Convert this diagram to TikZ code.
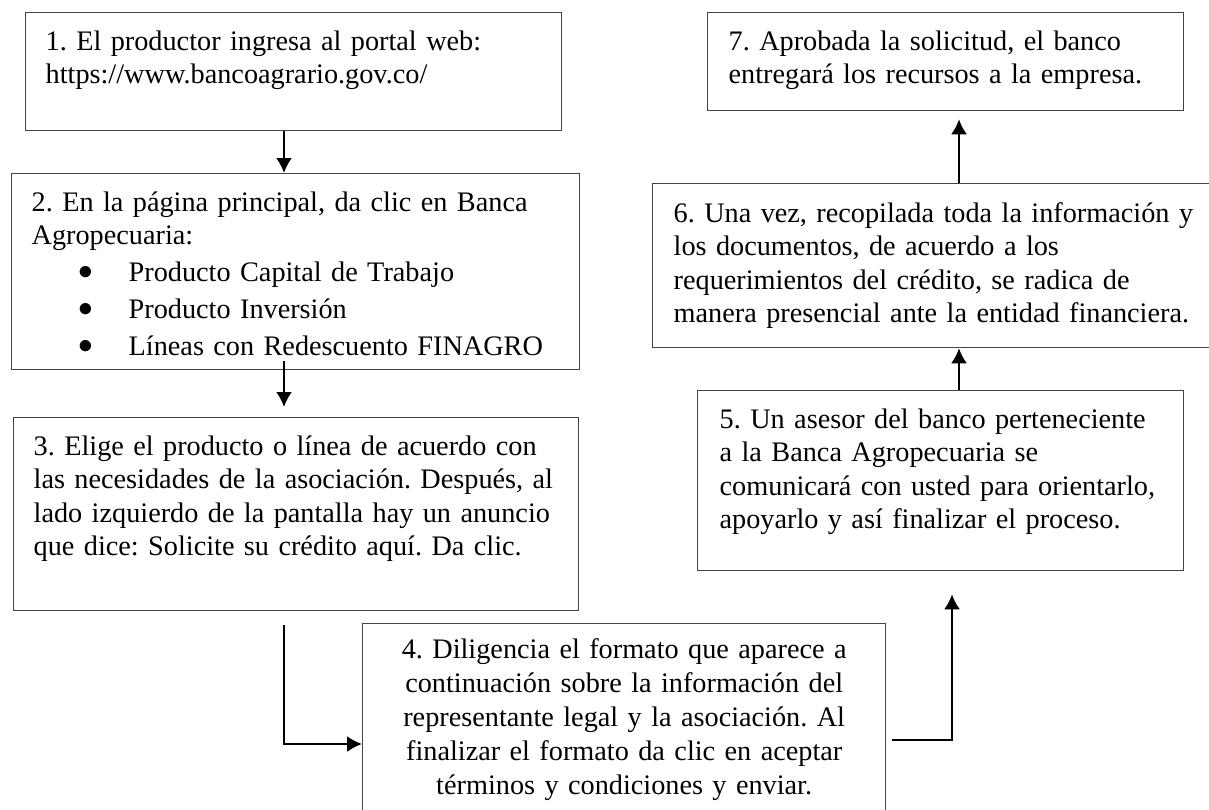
\documentclass[tikz,border=0pt]{standalone}
\usepackage{fontspec}
\setmainfont{Liberation Serif}
\usepackage{tikz}
\usetikzlibrary{arrows.meta,calc}

\frenchspacing
\definecolor{boxgray}{HTML}{444444}
\newdimen\pxu \pxu=0.407pt
\newcommand\bulletline[1]{\makebox[97\pxu][l]{\hspace*{47\pxu}\raisebox{0.8pt}{$\bullet$}}#1}

\tikzset{
        stepbox/.style={draw=boxgray, line width=0.55pt, anchor=north west, inner sep=0pt,
                font=\fontsize{11.5pt}{13.5pt}\selectfont},
        lpad/.style={execute at begin node={\leftskip=#1\pxu}},
        conn/.style={->, line width=0.8pt},
}

\begin{document}
\begin{tikzpicture}[x=0.407pt, y=-0.407pt, >={Latex[length=6.1pt,width=6.5pt]}]
        \useasboundingbox (0,0) rectangle (1209,809);

        \node[stepbox, lpad=20, text width=536\pxu, text height=38\pxu, text depth=80\pxu] (b1) at (25,12)
                {1. El productor ingresa al portal web:\\ https://www.bancoagrario.gov.co/}; % шаг 1
        \node[stepbox, lpad=20, text width=568\pxu, text height=38\pxu, text depth=158\pxu] (b2) at (11,173)
                {2. En la página principal, da clic en Banca\\ Agropecuaria:\\[1.6pt]
                \bulletline{Producto Capital de Trabajo}\\[1.4pt]
                \bulletline{Producto Inversión}\\[1.6pt]
                \bulletline{Líneas con Redescuento FINAGRO}}; % шаг 2
        \node[stepbox, lpad=20, text width=565\pxu, text height=38\pxu, text depth=155\pxu] (b3) at (13,417)
                {3. Elige el producto o línea de acuerdo con\\ las necesidades de la asociación. Después, al\\
                lado izquierdo de la pantalla hay un anuncio\\ que dice: Solicite su crédito aquí. Da clic.}; % шаг 3
        \node[stepbox, align=center, font=\fontsize{11.5pt}{13.8pt}\selectfont,
                text width=523\pxu, text height=35\pxu, text depth=182\pxu] (b4) at (362,623)
                {4. Diligencia el formato que aparece a\\ continuación sobre la información del\\
                representante legal y la asociación. Al\\ finalizar el formato da clic en aceptar\\
                términos y condiciones y enviar.}; % шаг 4
        \node[stepbox, lpad=22, text width=486\pxu, text height=38\pxu, text depth=142\pxu] (b5) at (697,390)
                {5. Un asesor del banco perteneciente\\ a la Banca Agropecuaria se\\
                comunicará con usted para orientarlo,\\ apoyarlo y así finalizar el proceso.}; % шаг 5
        \node[stepbox, lpad=21, text width=600\pxu, text height=39\pxu, text depth=125\pxu] (b6) at (652,183)
                {6. Una vez, recopilada toda la información y\\ los documentos, de acuerdo a los\\
                requerimientos del crédito, se radica de\\ manera presencial ante la entidad financiera.}; % шаг 6
        \node[stepbox, lpad=21, text width=476\pxu, text height=38\pxu, text depth=60\pxu] (b7) at (707,12)
                {7. Aprobada la solicitud, el banco\\ entregará los recursos a la empresa.}; % шаг 7

        \coordinate (colA) at (284,0); % левая колонка стрелок
        \coordinate (colB) at (952,0);
        \coordinate (colC) at (959,0); % правая колонка
        \coordinate (row34) at (0,744);
        \coordinate (row45) at (0,740);

        \draw[conn] (b1.south -| colA) -- (b2.north -| colA);
        \draw[conn] ($(b2.south -| colA)+(0,-9)$) -- ($(b3.north -| colA)+(0,-10)$);
        \draw[conn] ($(b3.south -| colA)+(0,14)$) |- (b4.west |- row34);
        \draw[conn] ($(b4.east |- row45)+(6,0)$) -| ($(b5.south -| colB)+(0,23)$);
        \draw[conn] (b5.north -| colC) -- (b6.south -| colC);
        \draw[conn] (b6.north -| colC) -- ($(b7.south -| colC)+(0,8)$);
\end{tikzpicture}
\end{document}
